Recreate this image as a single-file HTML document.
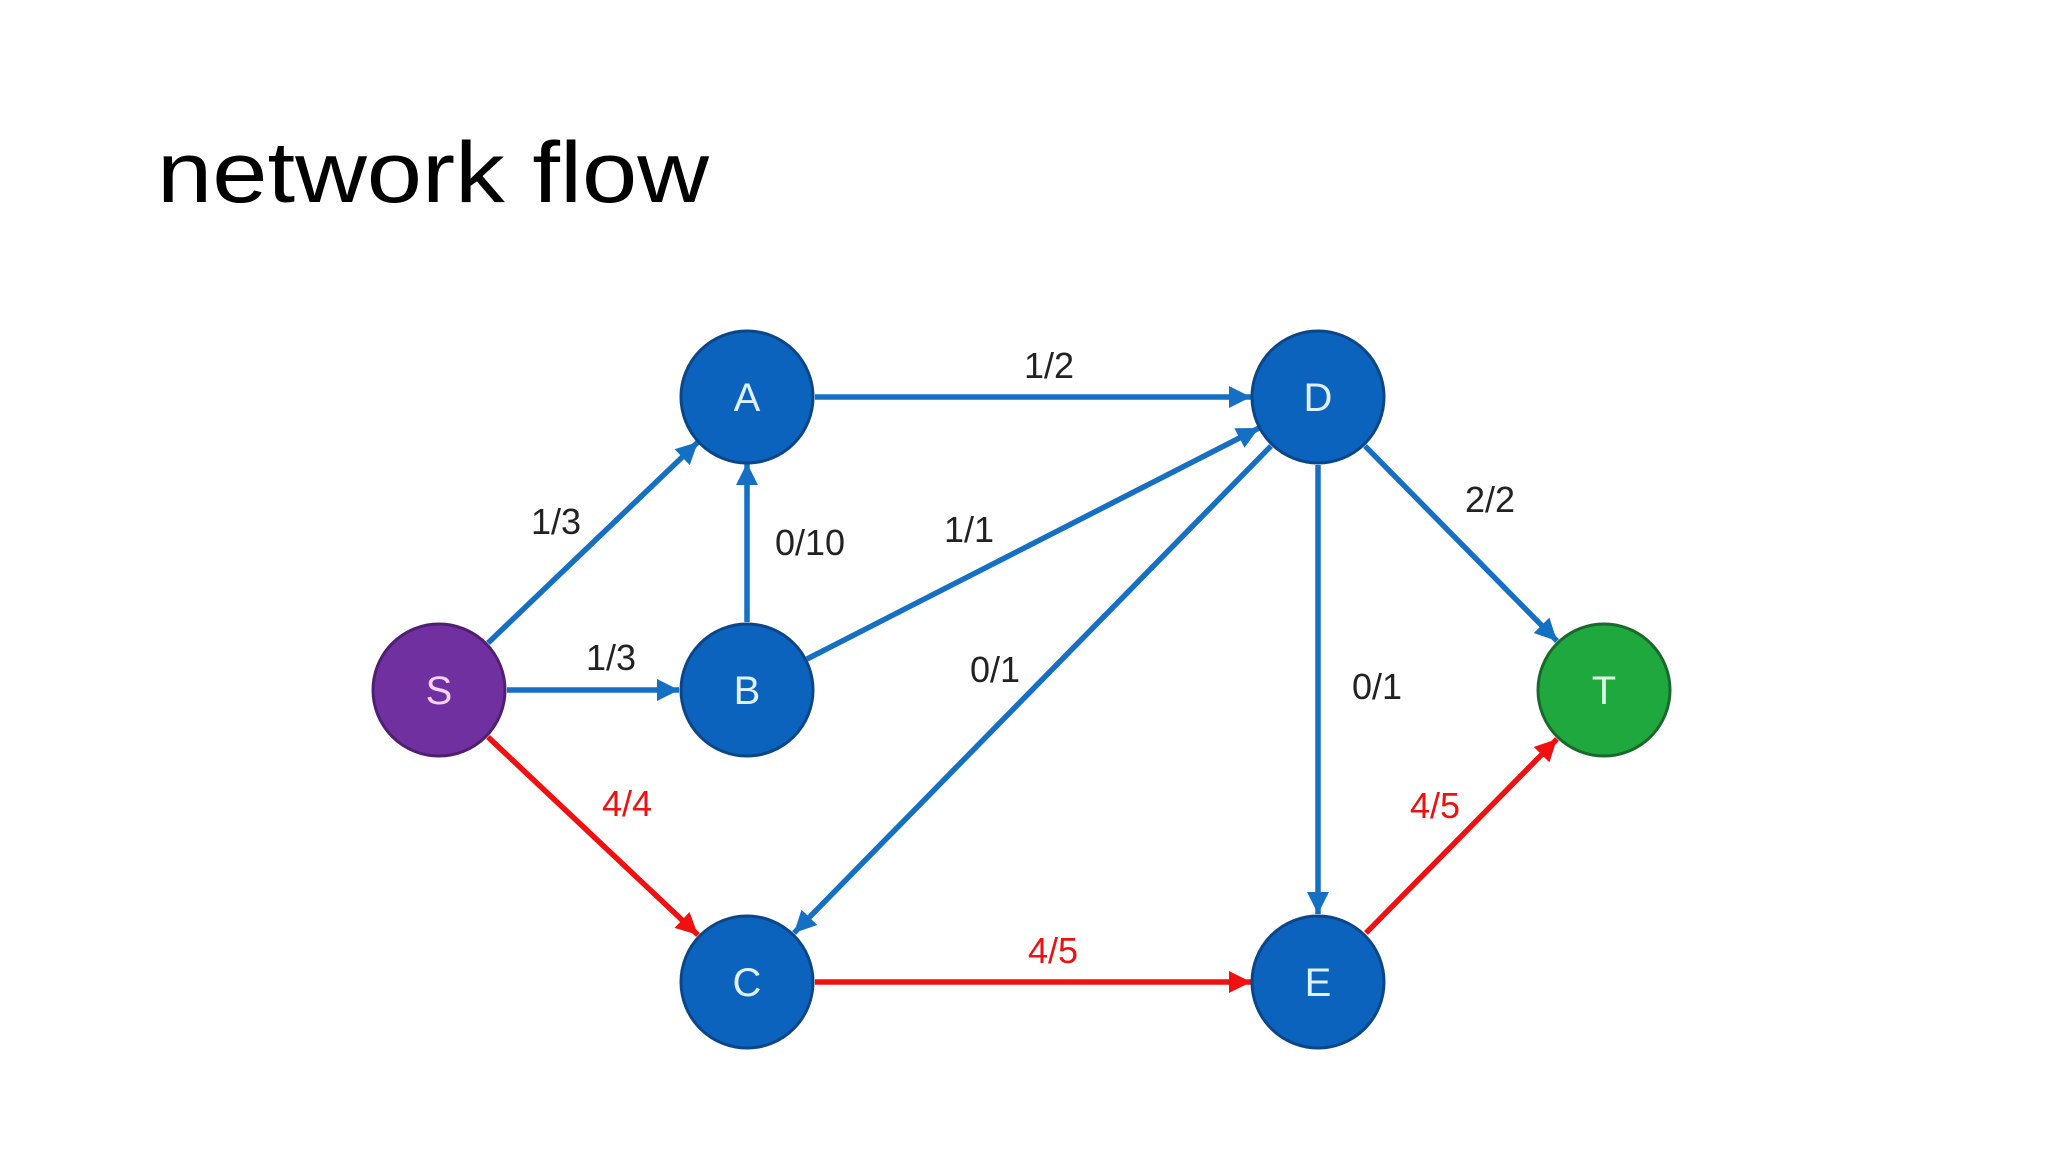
<!DOCTYPE html>
<html><head><meta charset="utf-8"><style>
html,body{margin:0;padding:0;background:#fff;}
svg{display:block;}
</style></head><body>
<svg width="2048" height="1152" viewBox="0 0 2048 1152" xmlns="http://www.w3.org/2000/svg">
<defs>
<marker id="ab" viewBox="0 0 10 10" refX="10" refY="5" markerWidth="4" markerHeight="4" orient="auto" markerUnits="strokeWidth"><path d="M0,0 L10,5 L0,10 z" fill="#1570c4"/></marker>
<marker id="ar" viewBox="0 0 10 10" refX="10" refY="5" markerWidth="4" markerHeight="4" orient="auto" markerUnits="strokeWidth"><path d="M0,0 L10,5 L0,10 z" fill="#f01010"/></marker>
</defs>
<text x="157" y="202" font-family="Liberation Sans, sans-serif" font-size="86" fill="#000" textLength="552" lengthAdjust="spacingAndGlyphs">network flow</text>
<g stroke="#1570c4" stroke-width="5.5" fill="none" marker-end="url(#ab)">
<line x1="488" y1="643" x2="698" y2="442"/>
<line x1="507" y1="690" x2="679" y2="690"/>
<line x1="747" y1="622" x2="747" y2="463"/>
<line x1="815" y1="397" x2="1251" y2="397"/>
<line x1="807" y1="659" x2="1259" y2="428"/>
<line x1="1271" y1="446" x2="794" y2="933"/>
<line x1="1318" y1="465" x2="1318" y2="914"/>
<line x1="1365" y1="446" x2="1557" y2="641"/>
</g>
<g stroke="#f01010" stroke-width="5.5" fill="none" marker-end="url(#ar)">
<line x1="488" y1="737" x2="698" y2="935"/>
<line x1="815" y1="982" x2="1251" y2="982"/>
<line x1="1366" y1="933" x2="1557" y2="739"/>
</g>
<g stroke-width="3" font-family="Liberation Sans, sans-serif" font-size="40" text-anchor="middle">
<circle cx="747" cy="397" r="66" fill="#0b63bd" stroke="#0a4688"/>
<circle cx="1318" cy="397" r="66" fill="#0b63bd" stroke="#0a4688"/>
<circle cx="439" cy="690" r="66" fill="#7030a0" stroke="#4e1f73"/>
<circle cx="747" cy="690" r="66" fill="#0b63bd" stroke="#0a4688"/>
<circle cx="1604" cy="690" r="66" fill="#1fa83e" stroke="#19692c"/>
<circle cx="747" cy="982" r="66" fill="#0b63bd" stroke="#0a4688"/>
<circle cx="1318" cy="982" r="66" fill="#0b63bd" stroke="#0a4688"/>
<g stroke="none" fill="#dff0ff">
<text x="747" y="411">A</text>
<text x="1318" y="411">D</text>
<text x="439" y="704" fill="#f3d3ff">S</text>
<text x="747" y="704">B</text>
<text x="1604" y="704" fill="#d8ffe0">T</text>
<text x="747" y="996">C</text>
<text x="1318" y="996">E</text>
</g>
</g>
<g font-family="Liberation Sans, sans-serif" font-size="36" text-anchor="middle" fill="#222">
<text x="1049" y="378">1/2</text>
<text x="556" y="534">1/3</text>
<text x="810" y="555">0/10</text>
<text x="969" y="542">1/1</text>
<text x="1490" y="512">2/2</text>
<text x="611" y="670">1/3</text>
<text x="995" y="682">0/1</text>
<text x="1377" y="699">0/1</text>
<g fill="#f01010">
<text x="627" y="816">4/4</text>
<text x="1435" y="818">4/5</text>
<text x="1053" y="963">4/5</text>
</g>
</g>
</svg>
</body></html>
